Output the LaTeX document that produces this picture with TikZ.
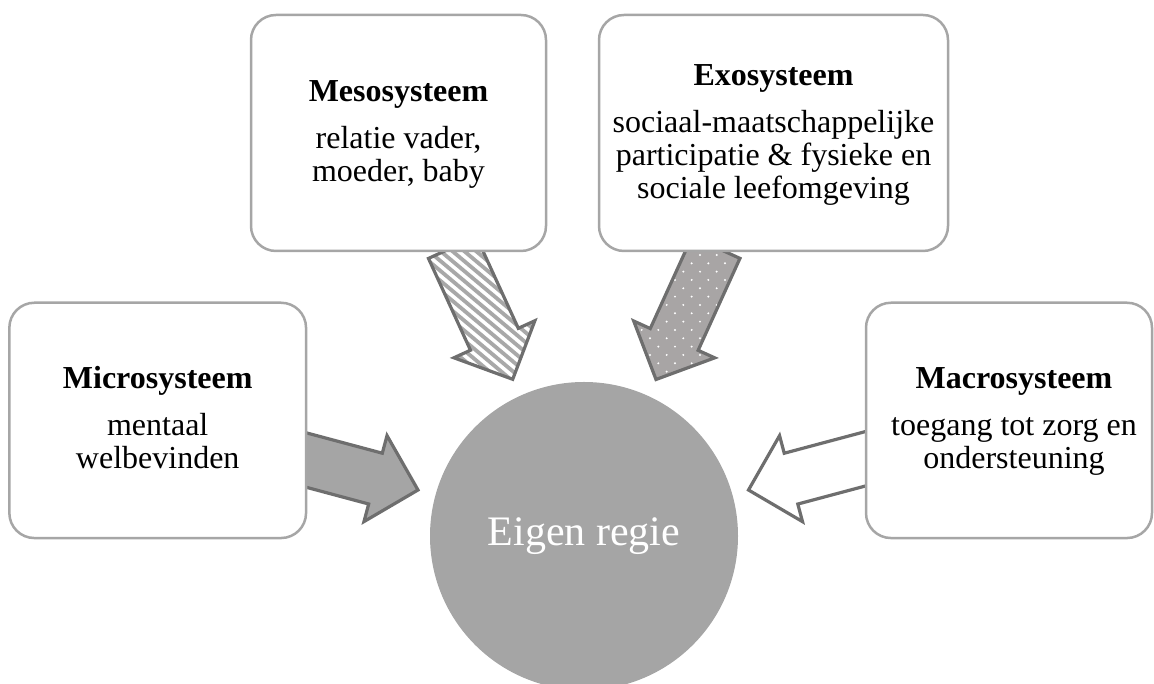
\documentclass[tikz,border=0pt]{standalone}
\usepackage{fontspec}
\setmainfont{Liberation Serif}
\usetikzlibrary{calc}
\definecolor{boxgray}{HTML}{A6A6A6}
\definecolor{arrline}{HTML}{6E6E6E}
\definecolor{fillgray}{HTML}{A5A5A5}
\definecolor{dotgray}{HTML}{A8A5A5}
\definecolor{stripegray}{HTML}{A8A8A8}

% block arrow path from start coordinate #1 to tip coordinate #2
\newcommand\blockarrowpath[2]{%
  let \p1=($(#2)-(#1)$), \n1={atan2(\y1,\x1)}, \n2={veclen(\x1,\y1)-44} in
  ($(#1)+(\n1+90:26.3pt)$) -- ($(#1)+(\n1:\n2)+(\n1+90:26.3pt)$) --
  ($(#1)+(\n1:\n2)+(\n1+90:44.5pt)$) -- (#2) --
  ($(#1)+(\n1:\n2)+(\n1-90:44.5pt)$) -- ($(#1)+(\n1:\n2)+(\n1-90:26.3pt)$) --
  ($(#1)+(\n1-90:26.3pt)$) -- cycle}

\tikzset{
  sysbox/.style={draw=boxgray, line width=2.5pt, fill=white, rounded corners=25pt},
  systext/.style={align=center, anchor=base, font=\fontsize{32}{33}\selectfont, inner sep=0pt},
  arrowline/.style={draw=arrline, line width=3.2pt, line join=miter},
  stripe/.style={draw=stripegray, line width=3.8pt},
}

\begin{document}
\begin{tikzpicture}[x=1pt,y=1pt]
\useasboundingbox (0,0) rectangle (1154,684);

% arrow coordinates (start inside the box, tip near the circle)
\coordinate (microA) at (290,228.3);
\coordinate (microB) at (418,194);
\coordinate (macroA) at (877,228.3);
\coordinate (macroB) at (748.5,194);
\coordinate (mesoA) at (452.4,436.5);
\coordinate (mesoB) at (512.7,304.7);
\coordinate (exoA) at (716,436.5);
\coordinate (exoB) at (656,304.5);

% Micro arrow: solid grey
\path[arrowline, fill=fillgray] \blockarrowpath{microA}{microB};

% Macro arrow: white
\path[arrowline, fill=white] \blockarrowpath{macroA}{macroB};

% Meso arrow: white with grey diagonal stripes
\begin{scope}
  \path[clip] \blockarrowpath{mesoA}{mesoB};
  \fill[white] (380,280) rectangle (580,460);
  \foreach \i in {-30,...,30}
    \draw[stripe] ($(480,370)+(50:\i*7.6pt)+(-40:-200pt)$) -- ++(-40:400pt);
\end{scope}
\path[arrowline] \blockarrowpath{mesoA}{mesoB};

% Exo arrow: grey with white dots
\begin{scope}
  \path[clip] \blockarrowpath{exoA}{exoB};
  \fill[dotgray] (600,280) rectangle (780,460);
  \foreach \r in {-2,...,20}
    \foreach \c in {-6,...,4} {
      \pgfmathsetmacro\dx{700+\c*16.67+mod(\r+20,2)*8.33}
      \pgfmathsetmacro\dy{429-\r*8.33}
      \fill[white] (\dx,\dy) circle (1.1pt);
    }
\end{scope}
\path[arrowline] \blockarrowpath{exoA}{exoB};

% boxes
\node[sysbox, minimum width=295pt, minimum height=236pt, inner sep=0pt] (meso) at (398.5,551) {};
\node[sysbox, minimum width=349pt, minimum height=236pt, inner sep=0pt] (exo) at (773.5,551) {};
\node[sysbox, minimum width=296.7pt, minimum height=235.3pt, inner sep=0pt] (micro) at (157.7,263.6) {};
\node[sysbox, minimum width=286pt, minimum height=235.3pt, inner sep=0pt] (macro) at (1009,263.6) {};

% texts (anchor base = baseline of the last line)
\node[systext] (mesotext) at (398.5,502.3) {\textbf{Mesosysteem}\\[14pt]relatie vader,\\moeder, baby};
\node[systext] (exotext) at (773.5,485.7) {\textbf{Exosysteem}\\[14pt]sociaal-maatschappelijke\\participatie \& fysieke en\\sociale leefomgeving};
\node[systext] (microtext) at (157.7,215) {\textbf{Microsysteem}\\[14pt]mentaal\\welbevinden};
\node[systext] (macrotext) at (1014,215) {\textbf{Macrosysteem}\\[14pt]toegang tot zorg en\\ondersteuning};

% centre circle
\node[circle, fill=fillgray, minimum size=308pt, inner sep=0pt, text=white,
      font=\fontsize{42}{48}\selectfont] (centre) at (584,148) {Eigen regie};
\end{tikzpicture}
\end{document}
